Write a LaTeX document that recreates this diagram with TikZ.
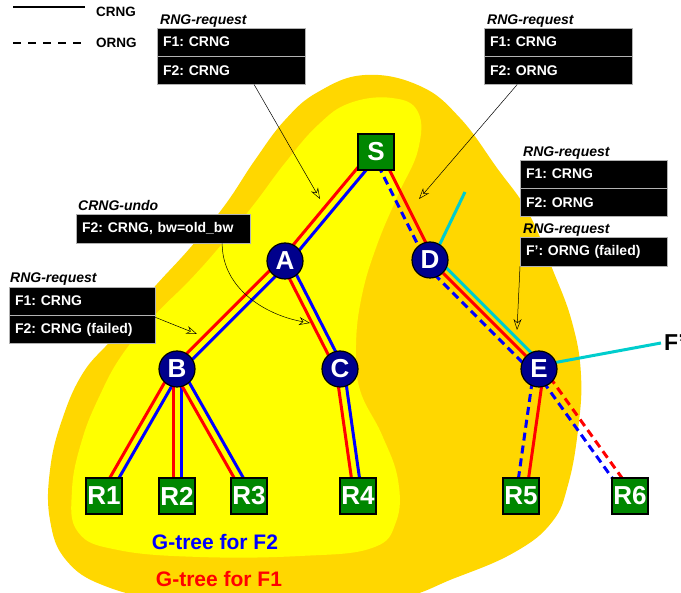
\documentclass[tikz,border=0pt]{standalone}
\usepackage{fontspec}
\setmainfont{Liberation Sans}
\usepackage{tikz}
\usetikzlibrary{calc}
\usetikzlibrary{positioning}
\usetikzlibrary{arrows.meta}
\definecolor{blobgold}{RGB}{255,215,0}
\definecolor{blobyellow}{RGB}{255,255,0}
\definecolor{relayblue}{RGB}{0,0,140}
\definecolor{hostgreen}{RGB}{0,135,0}
\definecolor{fcyan}{RGB}{0,205,205}
\pgfdeclarelayer{blobs}
\pgfdeclarelayer{edges}
\pgfsetlayers{blobs,edges,main}
\frenchspacing
\newcommand{\gpair}[2]{%
  \draw[f1line] ($(#1)!4pt!-90:(#2)$) -- ($(#2)!4pt!90:(#1)$);
  \draw[f2line] ($(#1)!4pt!90:(#2)$) -- ($(#2)!4pt!-90:(#1)$);}

\begin{document}
\begin{tikzpicture}[x=1pt,y=-1pt,
  relay/.style={circle, draw=black, line width=1.2pt, fill=relayblue, text=white,
    minimum size=36pt, inner sep=0pt, font=\fontsize{26}{26}\selectfont\bfseries},
  hostbox/.style={rectangle, draw=black, line width=1.2pt, fill=hostgreen, text=white,
    minimum size=36pt, inner sep=0pt, font=\fontsize{26}{26}\selectfont\bfseries},
  msgrow/.style={rectangle, fill=black, draw=gray!60, line width=0.3pt, text=white,
    anchor=north west, align=left, inner xsep=6pt, inner ysep=0pt, minimum height=28pt,
    font=\fontsize{14}{14}\selectfont\bfseries},
  msgtitle/.style={anchor=base west, inner sep=0pt,
    font=\fontsize{14}{14}\selectfont\bfseries\itshape},
  legtext/.style={anchor=west, inner sep=0pt, font=\fontsize{13.5}{14}\selectfont\bfseries},
  f1line/.style={draw=red, line width=3pt},
  f2line/.style={draw=blue, line width=3pt},
  oline/.style={dash pattern=on 8pt off 5pt},
  note/.style={draw=black, line width=0.5pt, -{Stealth[open,length=11pt,width=8pt]}}]
\useasboundingbox (0,0) rectangle (681,593);

\begin{pgfonlayer}{blobs}
\fill[blobgold] plot[smooth cycle, tension=0.7] coordinates {
  (365,75) (420,86) (460,118) (497,168) (528,212) (552,268) (572,322) (581,375)
  (578,430) (568,485) (552,522) (515,552) (455,578) (390,600) (280,606) (170,600)
  (105,586) (66,560) (50,520) (50,470) (62,420) (83,373) (113,338) (150,292)
  (190,248) (225,205) (255,160) (285,120) (318,92)};
\fill[blobyellow] plot[smooth cycle, tension=0.7] coordinates {
  (350,103) (392,98) (418,112) (418,150) (398,195) (377,245) (362,295) (356,345)
  (360,390) (382,435) (398,480) (396,522) (372,548) (300,556) (200,557) (118,550)
  (78,532) (72,490) (82,440) (100,395) (122,355) (155,315) (190,280) (222,244)
  (255,203) (285,163) (318,125)};
\end{pgfonlayer}

\coordinate (lsa) at (13,7);
\coordinate (lsb) at (85,7);
\coordinate (loa) at (13,43);
\coordinate (lob) at (85,43);
\draw[line width=1.3pt] (lsa) -- (lsb);
\draw[line width=1.3pt, dash pattern=on 8pt off 7pt] (loa) -- (lob);
\node[legtext] (crng) at (96,12) {CRNG};
\node[legtext] (orng) at (96,43) {ORNG};

\node[hostbox] (S) at (376,152) {S};
\node[relay] (A) at (285,261) {A};
\node[relay] (D) at (430,260) {D};
\node[relay] (B) at (177,369) {B};
\node[relay] (C) at (340,369) {C};
\node[relay] (E) at (539,369) {E};
\node[hostbox] (R1) at (104,496) {R1};
\node[hostbox] (R2) at (177,496) {R2};
\node[hostbox] (R3) at (249,496) {R3};
\node[hostbox] (R4) at (358,496) {R4};
\node[hostbox] (R5) at (521,496) {R5};
\node[hostbox] (R6) at (630,496) {R6};

\coordinate (fin) at (465,192);
\node[anchor=west, inner sep=3pt, font=\fontsize{23}{23}\selectfont\bfseries] (fprime) at (661,343) {F'};

\begin{pgfonlayer}{edges}
\gpair{S}{A}
\gpair{A}{B}
\gpair{A}{C}
\gpair{B}{R1}
\gpair{B}{R2}
\gpair{B}{R3}
\gpair{C}{R4}
\draw[f1line] ($(S)!4pt!90:(D)$) -- ($(D)!4pt!-90:(S)$);
\draw[f2line, oline] ($(S)!4pt!-90:(D)$) -- ($(D)!4pt!90:(S)$);
\draw[f1line] (D) -- (E);
\draw[f2line, oline] ($(D)!7pt!-90:(E)$) -- ($(E)!7pt!90:(D)$);
\draw[draw=fcyan, line width=3pt] (fin) -- ($(D)!6pt!90:(E)$) -- ($(E)!6pt!-90:(D)$) -- (fprime.west);
\draw[f1line] ($(E)!5pt!90:(R5)$) -- ($(R5)!5pt!-90:(E)$);
\draw[f2line, oline] ($(E)!5pt!-90:(R5)$) -- ($(R5)!5pt!90:(E)$);
\draw[f1line, oline] ($(E)!4pt!90:(R6)$) -- ($(R6)!4pt!-90:(E)$);
\draw[f2line, oline] ($(E)!4pt!-90:(R6)$) -- ($(R6)!4pt!90:(E)$);
\end{pgfonlayer}

\node[msgrow, text width=136pt] (q1a) at (157,28) {F1: CRNG};
\node[msgrow, text width=136pt, below=0pt of q1a] (q1b) {F2: CRNG};
\node[msgtitle] at ([xshift=3pt,yshift=3pt]q1a.north west) {RNG-request};
\node[msgrow, text width=136pt] (q2a) at (484,28) {F1: CRNG};
\node[msgrow, text width=136pt, below=0pt of q2a] (q2b) {F2: ORNG};
\node[msgtitle] at ([xshift=3pt,yshift=3pt]q2a.north west) {RNG-request};
\node[msgrow, text width=135pt] (q3a) at (520,160) {F1: CRNG};
\node[msgrow, text width=135pt, below=0pt of q3a] (q3b) {F2: ORNG};
\node[msgtitle] at ([xshift=3pt,yshift=3pt]q3a.north west) {RNG-request};
\node[msgrow, text width=135pt, minimum height=29pt] (q4a) at (520,237) {F’: ORNG (failed)};
\node[msgtitle] at ([xshift=3pt,yshift=3pt]q4a.north west) {RNG-request};
\node[msgrow, text width=162pt, minimum height=29pt] (undo) at (76,214) {F2: CRNG, bw=old\_bw};
\node[msgtitle] at ([xshift=2pt,yshift=3pt]undo.north west) {CRNG-undo};
\node[msgrow, text width=134pt] (q5a) at (9,287) {F1: CRNG};
\node[msgrow, text width=134pt, below=0pt of q5a] (q5b) {F2: CRNG (failed)};
\node[msgtitle] at ([xshift=1pt,yshift=4pt]q5a.north west) {RNG-request};

\coordinate (t1) at (320,199);
\coordinate (t2) at (419,199);
\coordinate (t3) at (310,323);
\coordinate (t4) at (197,334);
\coordinate (t5) at (517,330);
\draw[note] ([xshift=23pt]q1b.south) -- (t1);
\draw[note] ([xshift=-41pt]q2b.south) -- (t2);
\draw[note] ([xshift=59pt]undo.south) .. controls +(0,45) and +(-45,-8) .. (t3);
\draw[note] ([yshift=-2pt]q5b.north east) -- (t4);
\draw[note] (q4a.south west) -- (t5);

\node[text=blue, font=\fontsize{21}{21}\selectfont\bfseries] (f2tree) at (215,542) {G-tree for F2};
\node[text=red, font=\fontsize{21}{21}\selectfont\bfseries] (f1tree) at (219,579) {G-tree for F1};
\end{tikzpicture}
\end{document}
